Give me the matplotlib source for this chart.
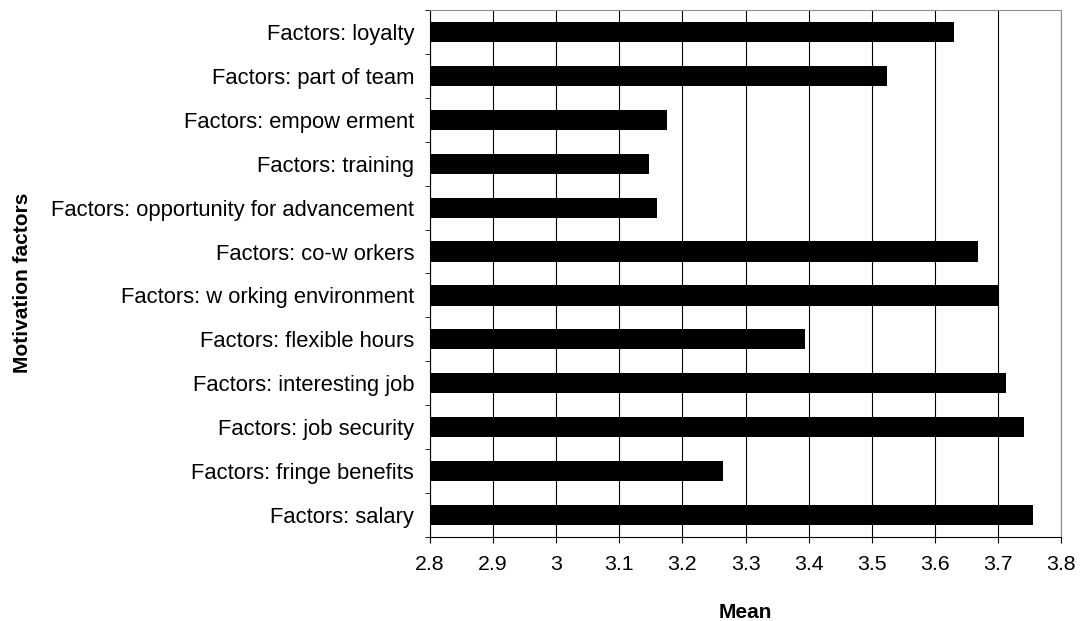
import matplotlib.pyplot as plt
import numpy as np

plt.rcParams["font.family"] = ["Liberation Sans", "DejaVu Sans"]

# bottom to top, as drawn
factors = [
    "Factors: salary",
    "Factors: fringe benefits",
    "Factors: job security",
    "Factors: interesting job",
    "Factors: flexible hours",
    "Factors: w orking environment",
    "Factors: co-w orkers",
    "Factors: opportunity for advancement",
    "Factors: training",
    "Factors: empow erment",
    "Factors: part of team",
    "Factors: loyalty",
]
means = [3.755, 3.264, 3.742, 3.713, 3.394, 3.700, 3.669, 3.160, 3.147, 3.175, 3.524, 3.631]
x_ticks = [2.8, 2.9, 3.0, 3.1, 3.2, 3.3, 3.4, 3.5, 3.6, 3.7, 3.8]
x_ticklabels = ["2.8", "2.9", "3", "3.1", "3.2", "3.3", "3.4", "3.5", "3.6", "3.7", "3.8"]

fig = plt.figure(figsize=(10.9, 6.21), dpi=100)
ax = fig.add_axes([0.3945, 0.1353, 0.5789, 0.8486])

y = np.arange(len(factors))
ax.barh(y, np.array(means) - 2.8, left=2.8, height=0.46, color="black", zorder=3)

ax.set_xlim(2.8, 3.8)
ax.set_ylim(-0.5, len(factors) - 0.5)
ax.set_xticks(x_ticks)
ax.set_xticklabels(x_ticklabels, fontsize=15.3)
ax.xaxis.grid(True, color="black", linewidth=0.8, zorder=0)

# category labels centred on bars, tick marks on category boundaries
ax.set_yticks(y)
ax.set_yticklabels(factors, fontsize=15.8)
ax.tick_params(axis="y", length=0, pad=11.5)
ax.set_yticks(np.arange(-0.5, len(factors)), minor=True)
ax.tick_params(axis="y", which="minor", length=3.6, direction="out")
ax.tick_params(axis="x", length=4.3, direction="out", pad=9)

for side in ("top", "right"):
    ax.spines[side].set_color("#909090")
for side in ("left", "bottom"):
    ax.spines[side].set_color("black")

fig.text(0.684, 1 - 612 / 621, "Mean", fontsize=15, fontweight="bold",
         ha="center", va="center")
fig.text(23 / 1090, 1 - 283 / 621, "Motivation factors", fontsize=15,
         fontweight="bold", rotation=90, ha="center", va="center")

fig.savefig("out.png", dpi=100)
